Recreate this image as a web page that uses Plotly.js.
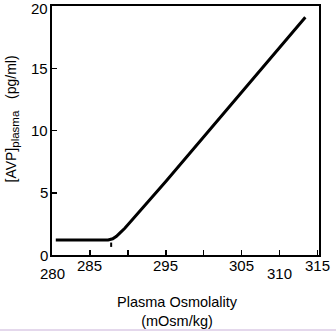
<!DOCTYPE html>
<html>
<head>
<meta charset="utf-8">
<script src="https://cdn.plot.ly/plotly-3.0.1.min.js"></script>
<style>
html,body{margin:0;padding:0;background:#ffffff;}
#chart{width:336px;height:329px;}
#strip{width:336px;height:2px;background:#e4d8ec;}
</style>
</head>
<body>
<div id="chart"></div>
<div id="strip"></div>
<script>
// Plasma AVP vs plasma osmolality
const osmolality = [280.5, 287.4, 288.0, 288.5, 289.0, 289.6, 295, 300, 305, 310, 313.4];
const avp        = [1.2,   1.2,   1.3,   1.5,   1.8,   2.15,  5.9, 9.5, 13.1, 16.7, 19.1];

const thresholdX = [287.8, 287.8];
const thresholdY = [0.65, 1.0];

const xTickVals = [280, 285, 290, 295, 300, 305, 310, 315];
const xLabelVals = [280, 285, 295, 305, 310, 315];
const xLabelText = ['280', '285', '295', '305', '310', '315'];
const xLabelDrop = [1, 0, 0, 0, 1, 0];  // staggered labels (1 = lower row)

const yTickVals = [0, 5, 10, 15, 20];
const yLabelText = ['0', '5', '10', '15', '20'];

const xTitleText = 'Plasma Osmolality<br>(mOsm/kg)';
const yTitleText = '[AVP]<sub><span style="font-size:11.5px">plasma</span></sub>&nbsp;&nbsp;&nbsp;(pg/ml)';

const font = 'Liberation Sans, Arial, Helvetica, sans-serif';

const traces = [
  {x: osmolality, y: avp, mode: 'lines', line: {color: '#000', width: 3}, hoverinfo: 'skip'},
  {x: thresholdX, y: thresholdY, mode: 'lines', line: {color: '#000', width: 2}, hoverinfo: 'skip'}
];

const annotations = xLabelVals.map((v, i) => ({
  x: v, xref: 'x', y: 0, yref: 'paper', yanchor: 'middle', xanchor: 'center',
  yshift: xLabelDrop[i] ? -18 : -10, showarrow: false, text: xLabelText[i],
  font: {family: font, size: 15, color: '#000'}
}));
yTickVals.forEach((v, i) => annotations.push({
  x: -0.008, xref: 'paper', y: v, yref: 'y', xanchor: 'right', yanchor: 'middle',
  yshift: v === 20 ? -2 : 0,
  showarrow: false, text: yLabelText[i], font: {family: font, size: 15, color: '#000'}
}));
annotations.push({
  x: -0.150, xref: 'paper', xanchor: 'center', y: 10.96, yref: 'y', yanchor: 'middle', textangle: -90, showarrow: false,
  text: yTitleText, font: {family: font, size: 14, color: '#000'}
});
annotations.push({
  x: 296.5, xref: 'x', xanchor: 'center', y: -0.2249, yref: 'paper', yanchor: 'middle', showarrow: false,
  text: xTitleText, font: {family: font, size: 14.5, color: '#000'}
});

const layout = {
  width: 336, height: 329,
  margin: {l: 52, r: 17, t: 6, b: 74},
  paper_bgcolor: '#fff', plot_bgcolor: '#fff',
  showlegend: false,
  font: {family: font, color: '#000'},
  xaxis: {range: [280, 315.2], tickvals: xTickVals, showticklabels: false, ticks: 'inside', ticklen: 5, tickwidth: 1.5, tickcolor: '#000',
          showline: true, linewidth: 2, linecolor: '#000', mirror: true, showgrid: false, zeroline: false, fixedrange: true},
  yaxis: {range: [0, 20], tickvals: yTickVals, showticklabels: false, ticks: 'inside', ticklen: 5, tickwidth: 1.5, tickcolor: '#000',
          showline: true, linewidth: 2, linecolor: '#000', mirror: true, showgrid: false, zeroline: false, fixedrange: true},
  annotations: annotations
};

Plotly.newPlot('chart', traces, layout, {staticPlot: true, displayModeBar: false});
</script>
</body>
</html>
